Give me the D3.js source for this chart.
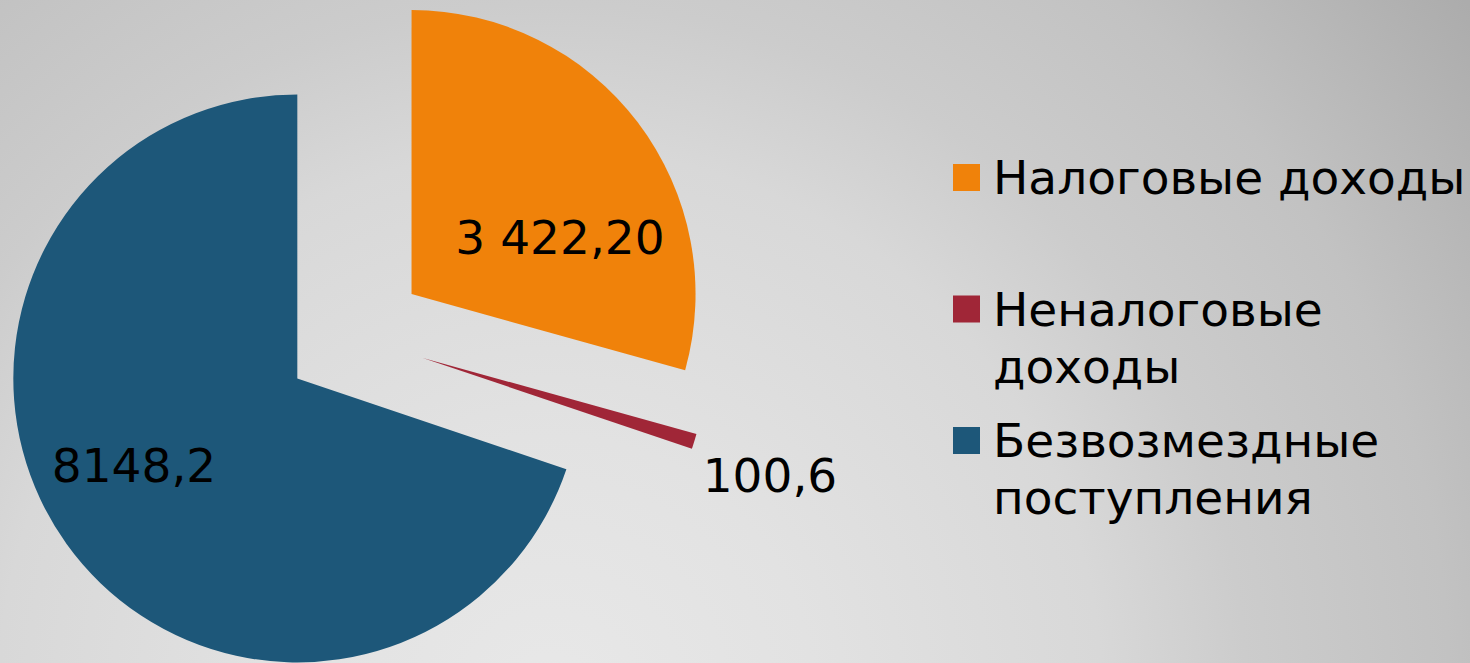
<!DOCTYPE html>
<html lang="ru">
<head>
    <meta charset="UTF-8">
    <title>Доходы</title>
    <script src="https://cdn.jsdelivr.net/npm/d3@7"></script>
    <style>
        html, body { margin: 0; padding: 0; overflow: hidden; }
        text { font-family: Verdana, 'DejaVu Sans', sans-serif; }
    </style>
</head>
<body>
<script>
    // data
    const categories = ['Налоговые доходы', 'Неналоговые доходы', 'Безвозмездные поступления']
    const values = [3422.2, 100.6, 8148.2]
    const valueLabels = ['3 422,20', '100,6', '8148,2']
    const legendLines = [['Налоговые доходы'], ['Неналоговые', 'доходы'], ['Безвозмездные', 'поступления']]
    const colors = ['#f0820a', '#a02637', '#1d5779']

    const [width, height] = [1470, 663]
    const [cx, cy, radius, explode] = [355, 337, 284, 71]
    // label anchor, relative to the pie centre
    const labelPos = [[205, -83], [415, 155], [-221, 145]]

    const svg = d3.select('body').append('svg')
        .attr('width', width)
        .attr('height', height)

    // background: soft radial grey
    const grad = svg.append('defs').append('radialGradient')
        .attr('id', 'bg')
        .attr('gradientUnits', 'userSpaceOnUse')
        .attr('cx', 550).attr('cy', 700).attr('r', 1200)
    const stops = [[0, 232], [0.22, 226], [0.46, 216], [0.58, 204], [0.75, 194], [0.96, 172], [1, 170]]
    grad.selectAll('stop').data(stops).enter().append('stop')
        .attr('offset', d => d[0])
        .attr('stop-color', d => d3.rgb(d[1], d[1], d[1]))
    svg.append('rect').attr('width', width).attr('height', height).attr('fill', 'url(#bg)')

    const pie = d3.pie().sort(null).value(d => d)
    const arcs = pie(values)
    const arc = d3.arc().innerRadius(0).outerRadius(radius)

    const g = svg.append('g').attr('transform', `translate(${cx},${cy})`)
    g.selectAll('path.slice').data(arcs)
        .enter().append('path')
        .attr('class', 'slice')
        .attr('d', arc)
        .attr('fill', (d, i) => colors[i])
        .attr('transform', d => {
            const a = (d.startAngle + d.endAngle) / 2
            return `translate(${explode * Math.sin(a)},${-explode * Math.cos(a)})`
        })

    g.selectAll('text.val').data(arcs)
        .enter().append('text')
        .attr('class', 'val')
        .attr('x', (d, i) => labelPos[i][0])
        .attr('y', (d, i) => labelPos[i][1])
        .attr('text-anchor', 'middle')
        .attr('font-size', 47)
        .attr('fill', '#000')
        .text((d, i) => valueLabels[i])

    // legend
    const legend = svg.append('g').attr('transform', 'translate(953,164)')
    const item = legend.selectAll('g.item').data(categories)
        .enter().append('g')
        .attr('class', 'item')
        .attr('transform', (d, i) => `translate(0,${i * 131.5})`)
    item.append('rect')
        .attr('width', 27).attr('height', 27)
        .attr('fill', (d, i) => colors[i])
    item.append('text')
        .attr('x', 40)
        .attr('y', 30)
        .attr('font-size', 47)
        .attr('fill', '#000')
        .selectAll('tspan').data((d, i) => legendLines[i])
        .enter().append('tspan')
        .attr('x', 40)
        .attr('dy', (d, j) => j === 0 ? 0 : 57)
        .text(d => d)
</script>
</body>
</html>
